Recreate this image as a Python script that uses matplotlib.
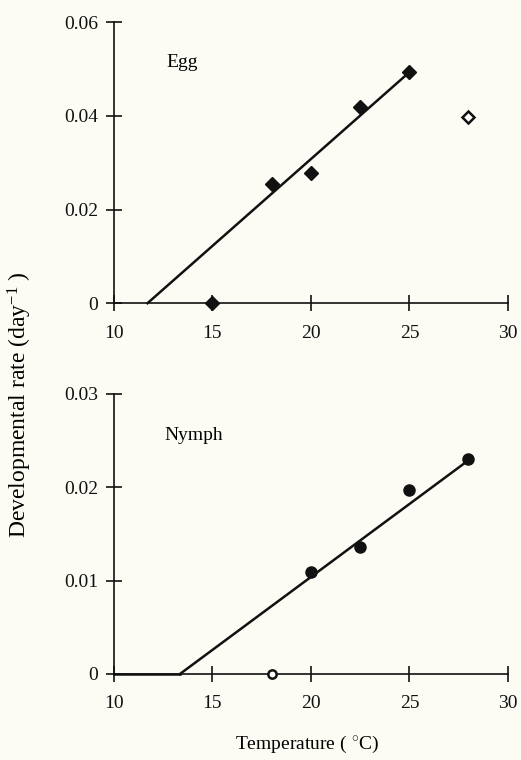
import matplotlib
matplotlib.use("Agg")
import matplotlib.pyplot as plt

plt.rcParams['font.family'] = ['Liberation Serif', 'DejaVu Serif']
plt.rcParams['mathtext.fontset'] = 'custom'
plt.rcParams['mathtext.rm'] = 'Liberation Serif'
plt.rcParams['mathtext.it'] = 'Liberation Serif:italic'

# Egg data
egg_temp = [15, 18, 20, 22.5, 25]
egg_rate = [0.0, 0.0254, 0.0277, 0.0419, 0.0494]
egg_open_temp = [28]
egg_open_rate = [0.0398]
egg_line_x = [11.7, 25]
egg_line_y = [0.0, 0.0493]

# Nymph data
nymph_temp = [20, 22.5, 25, 28]
nymph_rate = [0.0109, 0.0136, 0.0197, 0.0230]
nymph_open_temp = [18]
nymph_open_rate = [0.0]
nymph_line_x = [13.35, 28]
nymph_line_y = [0.0, 0.0229]

xticks = [10, 15, 20, 25, 30]
egg_yticks = [0, 0.02, 0.04, 0.06]
egg_yticklabels = ['0', '0.02', '0.04', '0.06']
nymph_yticks = [0, 0.01, 0.02, 0.03]
nymph_yticklabels = ['0', '0.01', '0.02', '0.03']

bg = '#fcfcf5'
fig = plt.figure(figsize=(5.21, 7.6), dpi=100, facecolor=bg)
ax1 = fig.add_axes([0.2188, 0.601, 0.756, 0.370])
ax2 = fig.add_axes([0.2188, 0.1132, 0.756, 0.3684])

def style(ax, yticks, ylabels, ymax):
    ax.set_facecolor(bg)
    ax.set_xlim(10, 30)
    ax.set_ylim(0, ymax)
    for s in ['top', 'right']:
        ax.spines[s].set_visible(False)
    for s in ['left', 'bottom']:
        ax.spines[s].set_linewidth(1.2)
        ax.spines[s].set_color('#111111')
    ax.set_xticks(xticks)
    ax.set_xticklabels([str(t) for t in xticks])
    ax.set_yticks(yticks)
    ax.set_yticklabels(ylabels)
    ax.tick_params(direction='inout', length=11, width=1.2, labelsize=14,
                   colors='#111111')
    ax.tick_params(axis='x', pad=10)
    ax.tick_params(axis='y', pad=6)

style(ax1, egg_yticks, egg_yticklabels, 0.06)
style(ax2, nymph_yticks, nymph_yticklabels, 0.03)

ax1.plot(egg_line_x, egg_line_y, color='#111111', lw=1.8, clip_on=False)
ax1.plot(egg_temp, egg_rate, 'D', color='#111111', ms=7.5, clip_on=False, zorder=5)
ax1.plot(egg_open_temp, egg_open_rate, 'D', mfc='white', mec='#111111', mew=1.8,
         ms=6.5, clip_on=False, zorder=5)
ax1.text(12.65, 0.0513, 'Egg', fontsize=14, va='center', ha='left')

ax2.plot(nymph_line_x, nymph_line_y, color='#111111', lw=1.8, clip_on=False)
ax2.plot([10, 13.35], [0, 0], color='#111111', lw=1.8, clip_on=False)
ax2.plot(nymph_temp, nymph_rate, 'o', color='#111111', ms=8, clip_on=False, zorder=5)
ax2.plot(nymph_open_temp, nymph_open_rate, 'o', mfc='white', mec='#111111', mew=1.8,
         ms=6, clip_on=False, zorder=5)
ax2.text(12.55, 0.0256, 'Nymph', fontsize=14, va='center', ha='left')

fig.text(0.038, 0.467, 'Developmental rate (day$^{\\mathregular{-1}}$ )', rotation=90,
         fontsize=17, va='center', ha='center')
fig.text(0.590, 0.02, 'Temperature ( $^{\\circ}$C)', fontsize=14,
         va='center', ha='center')

fig.savefig('out.png', dpi=100, facecolor=bg)
